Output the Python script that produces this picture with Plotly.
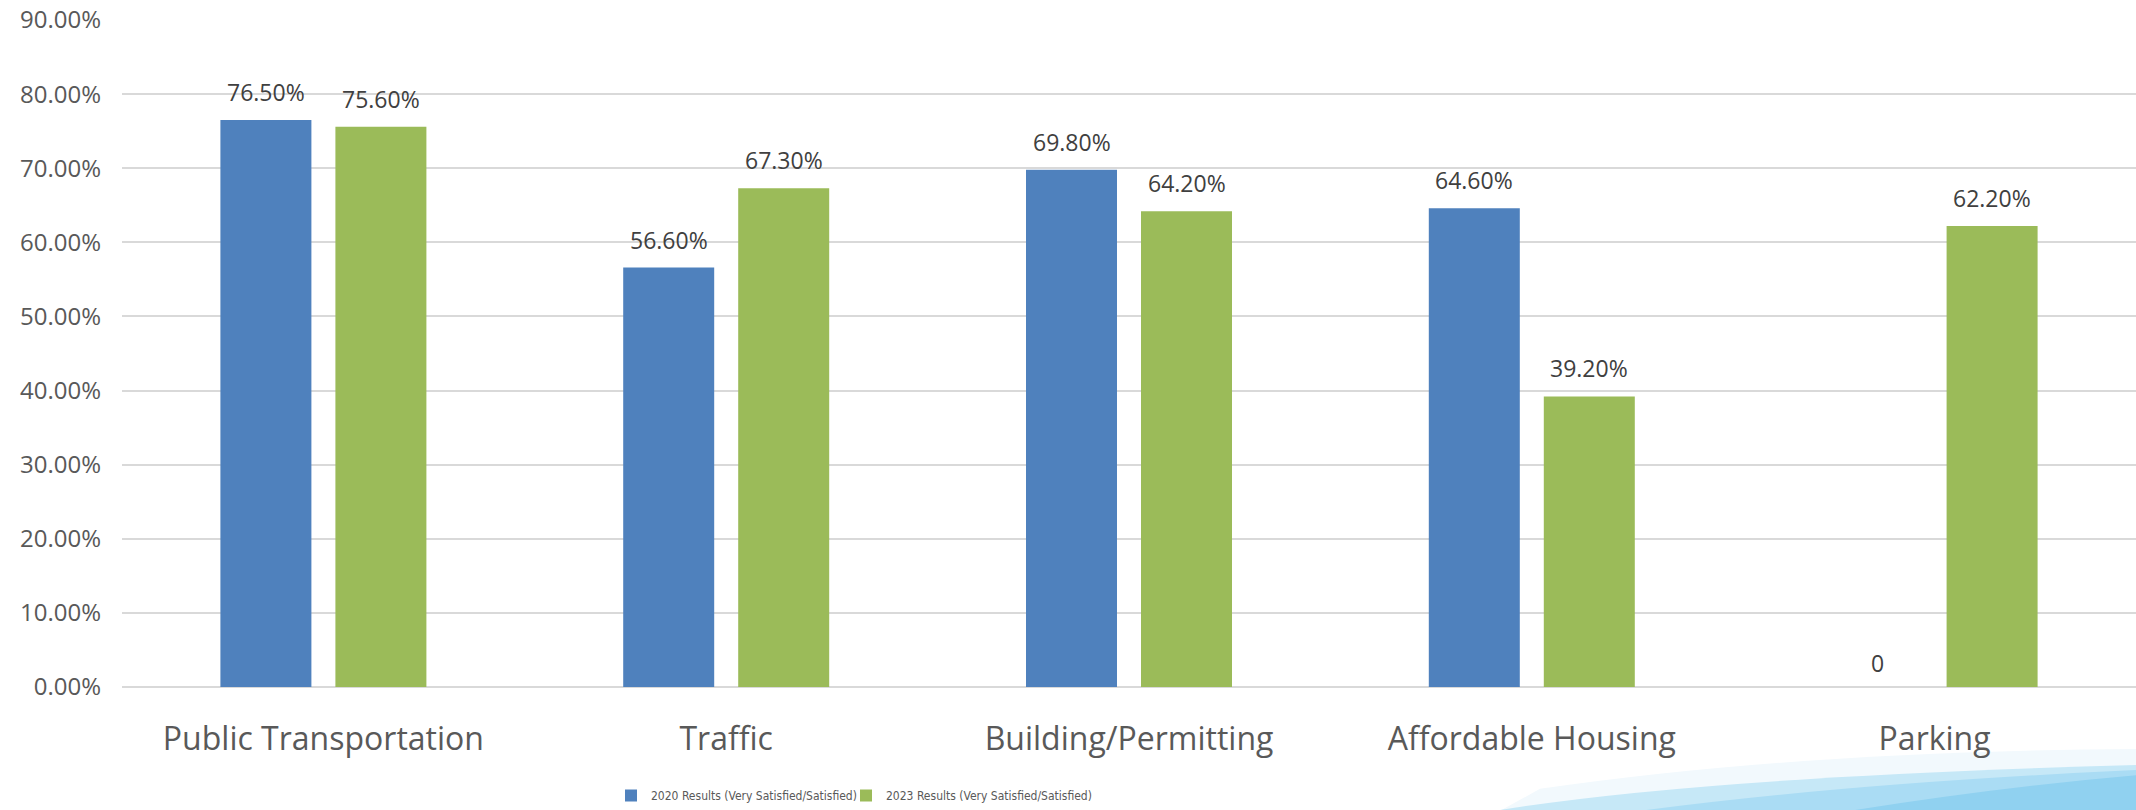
import plotly.graph_objects as go

categories = ["Public Transportation", "Traffic", "Building/Permitting", "Affordable Housing", "Parking"]
series_2020_name = "2020 Results (Very Satisfied/Satisfied)"
series_2023_name = "2023 Results (Very Satisfied/Satisfied)"
values_2020 = [0.765, 0.566, 0.698, 0.646, 0.0]
values_2023 = [0.756, 0.673, 0.642, 0.392, 0.622]
y_tick_values = [0, 0.1, 0.2, 0.3, 0.4, 0.5, 0.6, 0.7, 0.8, 0.9]

W, H = 2136, 810
ML, MR, MT, MB = 122, 0, 20, 122
PW, PH = W - ML - MR, H - MT - MB

BLUE = "#4F81BD"
GREEN = "#9BBB59"


def label(v):
    return "0" if v == 0 else f"{v * 100:.2f}%"


fig = go.Figure()
fig.add_trace(go.Bar(x=categories, y=values_2020, name=series_2020_name, legend="legend",
                     marker=dict(color=BLUE, line=dict(width=0))))
fig.add_trace(go.Bar(x=categories, y=values_2023, name=series_2023_name, legend="legend2",
                     marker=dict(color=GREEN, line=dict(width=0))))

# data labels
bar_shift = 57.5
for vals, shift in ((values_2020, -bar_shift), (values_2023, bar_shift)):
    for c, v in zip(categories, vals):
        fig.add_annotation(x=c, y=v, xref="x", yref="y", text=label(v),
                           showarrow=False, xanchor="center", yanchor="bottom",
                           xshift=shift, yshift=10 if v else 6,
                           font=dict(family="Open Sans", size=23, color="#404040"))


def px(x, y):
    return (x - ML) / PW, (H - MB - y) / PH


def path(points_ctrl):
    s = ""
    for cmd, pts in points_ctrl:
        s += cmd + " " + " ".join(f"{px(*p)[0]:.5f},{px(*p)[1]:.5f}" for p in pts) + " "
    return s + "Z"


# decorative background swoosh (bottom right)
swooshes = [
    ("#f2f9fd", [("M", [(1500, 812)]), ("L", [(1540, 790)]), ("Q", [(1800, 752), (2140, 750)]),
                 ("L", [(2140, 812)])]),
    ("#c6e8f7", [("M", [(1495, 812)]), ("Q", [(1700, 778), (2140, 766)]), ("L", [(2140, 812)])]),
    ("#aadcf4", [("M", [(1640, 812)]), ("Q", [(1850, 784), (2140, 771)]), ("L", [(2140, 812)])]),
    ("#90d1f0", [("M", [(1850, 812)]), ("Q", [(2000, 788), (2140, 776)]), ("L", [(2140, 812)])]),
]
for color, pts in swooshes:
    fig.add_shape(type="path", xref="paper", yref="paper", path=path(pts),
                  fillcolor=color, line=dict(width=0), layer="below")

legend_font = dict(family="Liberation Sans Narrow, DejaVu Sans Condensed, Arial Narrow",
                   size=12, color="#595959")
legend_y = (H - MB - 797) / PH

fig.update_layout(
    width=W, height=H,
    margin=dict(l=ML, r=MR, t=MT, b=MB),
    paper_bgcolor="white", plot_bgcolor="white",
    barmode="group", bargap=0.429, bargroupgap=0.2087,
    font=dict(family="Open Sans", color="#595959"),
    showlegend=True,
    legend=dict(orientation="h", x=(611 - ML) / PW, xanchor="left",
                y=legend_y, yanchor="middle", font=legend_font,
                bgcolor="rgba(0,0,0,0)", itemwidth=30),
    legend2=dict(orientation="h", x=(846 - ML) / PW, xanchor="left",
                 y=legend_y, yanchor="middle", font=legend_font,
                 bgcolor="rgba(0,0,0,0)", itemwidth=30),
    xaxis=dict(type="category", showgrid=False, showline=False, zeroline=False,
               ticks="", tickfont=dict(family="Open Sans", size=32, color="#595959"),
               ticklabelstandoff=30),
    yaxis=dict(range=[0, 0.9], tickvals=y_tick_values, tickformat=".2%",
               showgrid=True, gridcolor="#d9d9d9", gridwidth=1.5,
               zeroline=True, zerolinecolor="#d9d9d9", zerolinewidth=2,
               showline=False, ticks="",
               tickfont=dict(family="Open Sans", size=24, color="#595959"),
               ticklabelstandoff=20),
)

fig.write_html("out.html")
